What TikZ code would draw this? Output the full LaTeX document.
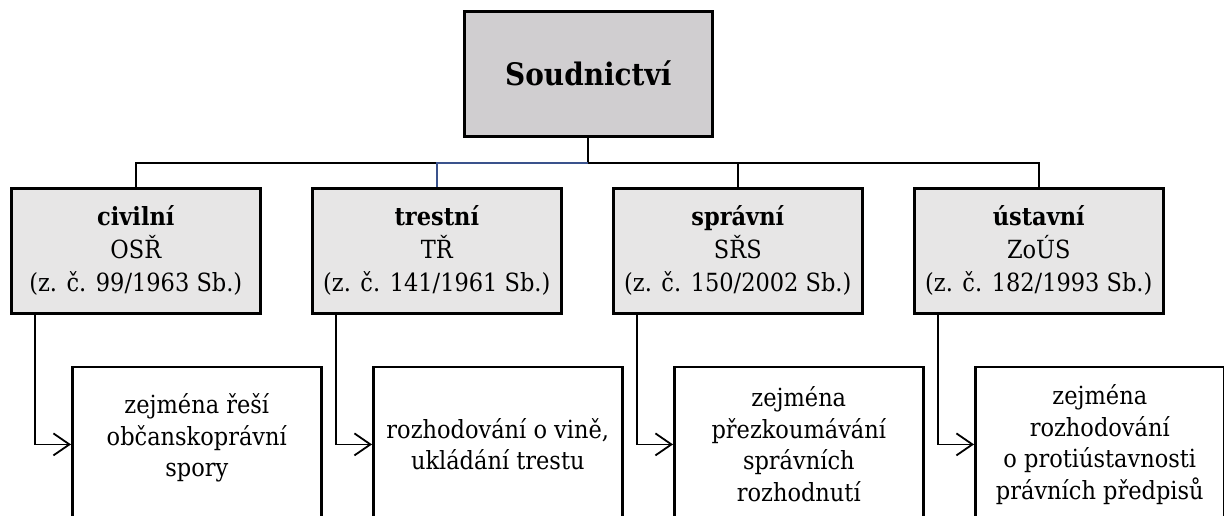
\documentclass[tikz,border=0pt]{standalone}
\usepackage{fontspec}
\setmainfont{DejaVu Serif}[FakeStretch=0.9]
\usetikzlibrary{arrows.meta,positioning}
\definecolor{topgray}{RGB}{208,206,208}
\definecolor{catgray}{RGB}{231,230,230}
\definecolor{busblue}{RGB}{58,82,140}

\begin{document}
\begin{tikzpicture}[
    x=1pt, y=1pt,
    node distance=49.4pt,
    court/.style={rectangle, draw, line width=2.6pt, fill=topgray, minimum width=248pt, minimum height=125pt, align=center, font=\fontsize{31}{36}\selectfont\bfseries},
    branch/.style={rectangle, draw, line width=2.6pt, fill=catgray, minimum width=249pt, minimum height=125pt, inner sep=0pt, align=center, font=\fontsize{25}{33}\selectfont},
    task/.style={rectangle, draw, line width=2.6pt, fill=white, minimum width=249pt, minimum height=155pt, inner sep=0pt, align=center, font=\fontsize{25}{31.5}\selectfont},
    link/.style={line width=1.8pt},
    arrow/.style={link, -{Straight Barb[length=16pt,width=22pt,line width=1.8pt]}}
]
\useasboundingbox (0,0) rectangle (1224,-515);
\clip (0,0) rectangle (1224,-515);

% top level
\node[court, anchor=north west] (soud) at (463,-10) {Soudnictví};

% kinds of proceedings
\node[branch, anchor=north west] (civ) at (10,-187) {\textbf{civilní}\\OSŘ\\(z. č. 99/1963 Sb.)};
\node[branch, right=of civ] (tre) {\textbf{trestní}\\TŘ\\(z. č. 141/1961 Sb.)};
\node[branch, right=of tre] (spr) {\textbf{správní}\\SŘS\\(z. č. 150/2002 Sb.)};
\node[branch, right=of spr] (ust) {\textbf{ústavní}\\ZoÚS\\(z. č. 182/1993 Sb.)};

% what they decide
\node[task, below right=51pt and 61pt of civ.south west] (civtask) {zejména řeší\\občanskoprávní\\spory\\[-13pt]\mbox{}};
\node[task, below right=51pt and 61pt of tre.south west] (tretask) {rozhodování o vině,\\ukládání trestu};
\node[task, below right=51pt and 61pt of spr.south west] (sprtask) {zejména\\přezkoumávání\\správních\\rozhodnutí};
\node[task, below right=51pt and 61pt of ust.south west] (usttask) {zejména\\rozhodování\\o protiústavnosti\\právních předpisů};

% tree
\draw[link] (soud.south) -- ++(0,-25) coordinate (bus);
\draw[link] (bus) -| (civ.north);
\draw[link] (bus) -| (spr.north);
\draw[link] (bus) -| (ust.north);
\draw[link, busblue] (bus) -| (tre.north);

% elbows
\draw[arrow] ([xshift=25pt]civ.south west) |- (civtask.west);
\draw[arrow] ([xshift=25pt]tre.south west) |- (tretask.west);
\draw[arrow] ([xshift=25pt]spr.south west) |- (sprtask.west);
\draw[arrow] ([xshift=25pt]ust.south west) |- (usttask.west);
\end{tikzpicture}
\end{document}
